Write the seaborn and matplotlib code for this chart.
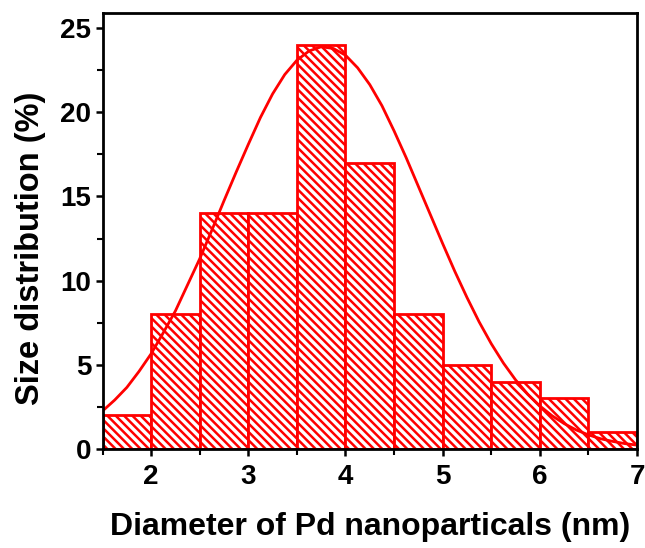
import numpy as np
import pandas as pd
import matplotlib
matplotlib.use("Agg")
import matplotlib.pyplot as plt
import seaborn as sns
from matplotlib.ticker import MultipleLocator

# Histogram data (bin edges in nm, percentages)
bin_edges = [1.5, 2.0, 2.5, 3.0, 3.5, 4.0, 4.5, 5.0, 5.5, 6.0, 6.5, 7.0]
bin_centers = [1.75, 2.25, 2.75, 3.25, 3.75, 4.25, 4.75, 5.25, 5.75, 6.25, 6.75]
percent = [2, 8, 14, 14, 24, 17, 8, 5, 4, 3, 1]

# Fitted distribution curve
curve_x = [1.5, 1.625, 1.75, 1.875, 2.0, 2.125, 2.25, 2.375, 2.5, 2.625, 2.75, 2.875,
           3.0, 3.125, 3.25, 3.375, 3.5, 3.625, 3.75, 3.875, 4.0, 4.125, 4.25, 4.375,
           4.5, 4.625, 4.75, 4.875, 5.0, 5.125, 5.25, 5.375, 5.5, 5.625, 5.75, 5.875,
           6.0, 6.125, 6.25, 6.375, 6.5, 6.625, 6.75, 6.875, 7.0]
curve_y = [2.25, 2.9, 3.65, 4.6, 5.65, 6.9, 8.2, 9.75, 11.3, 13.0, 14.75, 16.45,
           18.1, 19.7, 21.1, 22.25, 23.1, 23.65, 23.9, 23.8, 23.4, 22.65, 21.65, 20.4,
           18.9, 17.3, 15.6, 13.9, 12.2, 10.55, 9.0, 7.55, 6.25, 5.1, 4.1, 3.25,
           2.55, 1.97, 1.5, 1.12, 0.83, 0.6, 0.44, 0.31, 0.22]

x_ticks = [2, 3, 4, 5, 6, 7]
y_ticks = [0, 5, 10, 15, 20, 25]

sns.set_theme(style="ticks")
plt.rcParams['font.family'] = ['Liberation Sans', 'DejaVu Sans']
plt.rcParams['text.color'] = 'black'
plt.rcParams['axes.labelcolor'] = 'black'
plt.rcParams['xtick.color'] = 'black'
plt.rcParams['ytick.color'] = 'black'
plt.rcParams['hatch.color'] = '#ff0000'
plt.rcParams['hatch.linewidth'] = 1.8

fig = plt.figure(figsize=(6.45, 5.48), dpi=100)
ax = fig.add_axes([0.159, 0.181, 0.8286, 0.795])

df = pd.DataFrame({"d": bin_centers, "p": percent})
sns.histplot(data=df, x="d", weights="p", bins=bin_edges, ax=ax,
             color="white", edgecolor="#ff0000", linewidth=2.0, alpha=1.0)
for patch in ax.patches:
    patch.set_hatch('\\\\\\\\')
    patch.set_facecolor('white')
    patch.set_edgecolor('#ff0000')

curve = pd.DataFrame({"x": curve_x, "y": curve_y})
sns.lineplot(data=curve, x="x", y="y", ax=ax, color="#ff0000", linewidth=2.0)

ax.set_xlim(1.5, 7.0)
ax.set_ylim(0, 25.9)
ax.set_xticks(x_ticks)
ax.set_yticks(y_ticks)
ax.xaxis.set_minor_locator(MultipleLocator(0.5))
ax.yaxis.set_minor_locator(MultipleLocator(2.5))
ax.tick_params(axis='both', which='major', direction='out', length=5, width=1.8,
               labelsize=20, top=False, right=False, colors='black')
ax.tick_params(axis='x', which='major', pad=6)
ax.tick_params(axis='y', which='major', pad=3)
ax.tick_params(axis='both', which='minor', direction='out', length=4, width=1.5,
               top=False, right=False, colors='black')
for lab in ax.get_xticklabels() + ax.get_yticklabels():
    lab.set_fontweight('bold')
for sp in ax.spines.values():
    sp.set_visible(True)
    sp.set_linewidth(2.0)
    sp.set_color('black')

ax.set_xlabel("Diameter of Pd nanoparticals (nm)", fontsize=23, fontweight='bold', labelpad=16)
ax.set_ylabel("Size distribution (%)", fontsize=23.5, fontweight='bold')
ax.yaxis.set_label_coords(-0.106, 0.46)

fig.savefig("out.png", dpi=100)
